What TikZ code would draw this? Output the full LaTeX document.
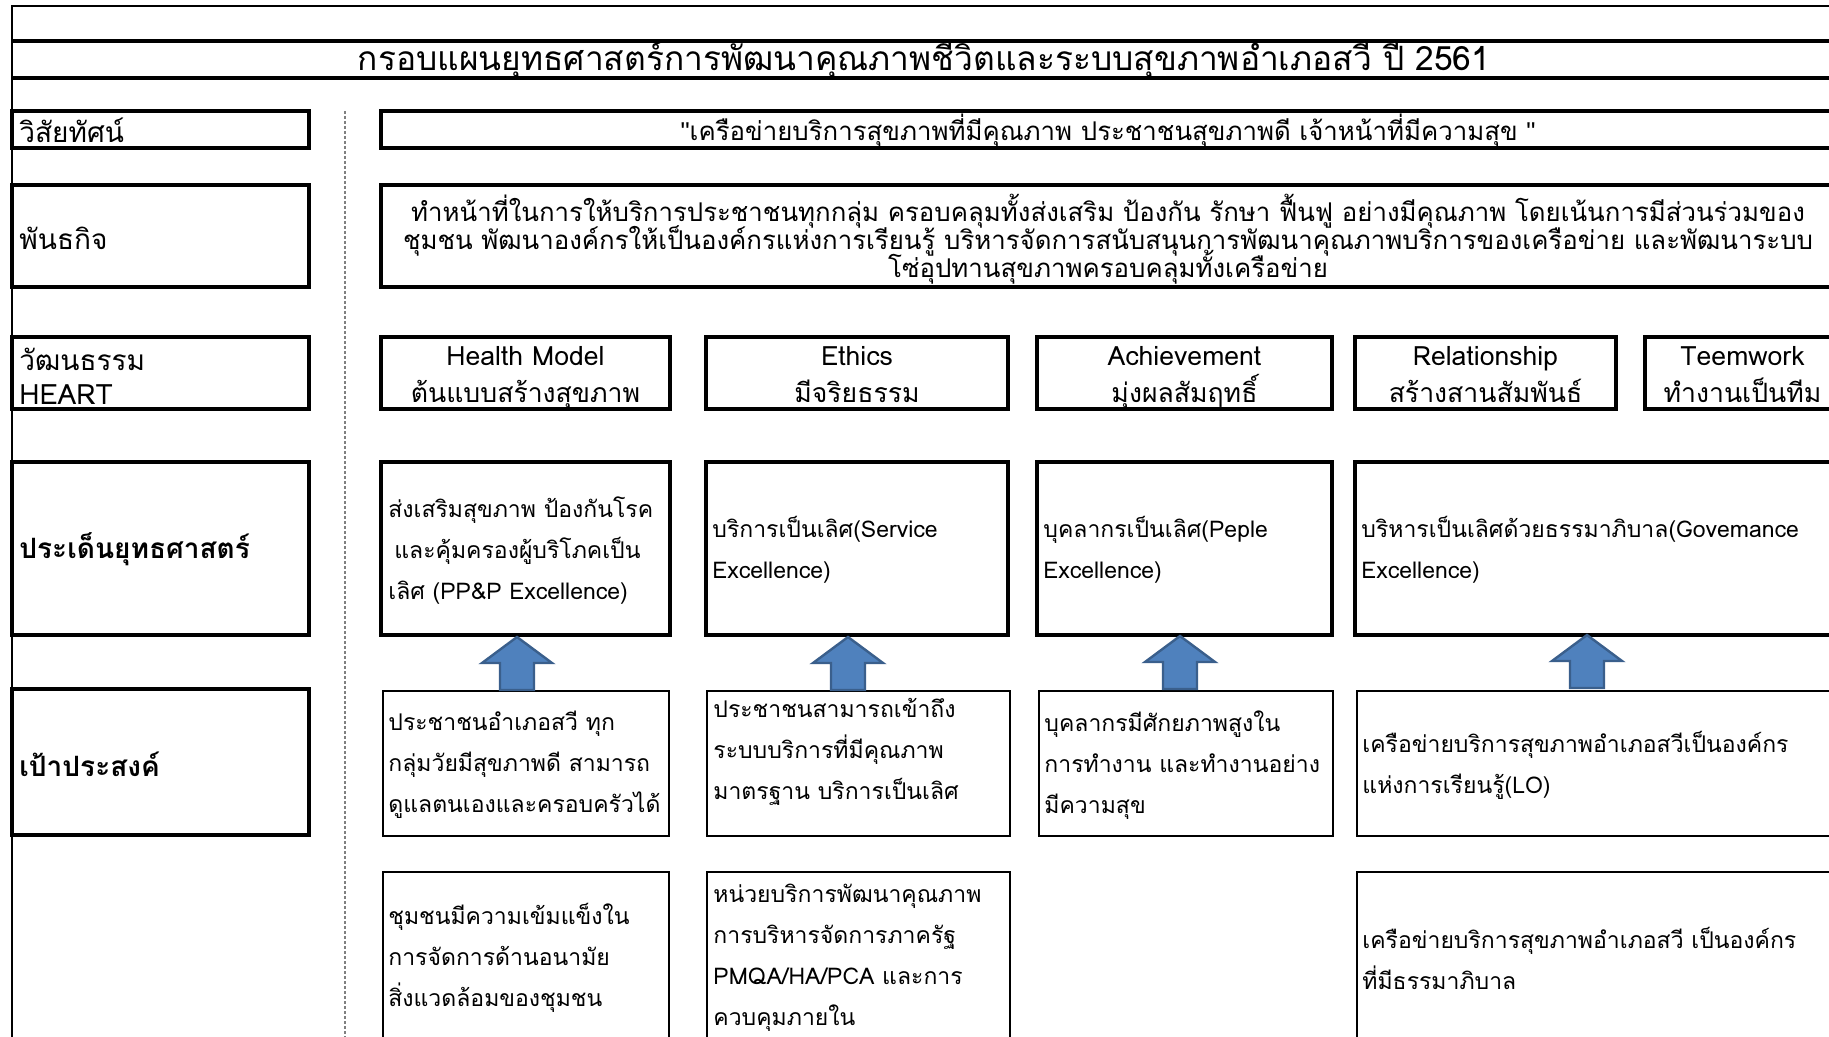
\documentclass[tikz,border=0pt]{standalone}
\usepackage{fontspec}
\setmainfont{Loma}[Script=Thai]
\newfontfamily\qfont{Liberation Sans}
\newcommand\tightlines{\lineskiplimit=-50pt\lineskip=0pt\relax}
\usetikzlibrary{fit}
\definecolor{arrfill}{HTML}{4F81BD}
\definecolor{arrline}{HTML}{3A5F8C}
\begin{document}
\begin{tikzpicture}[x=0.5pt,y=-0.5pt,
  frameline/.style={line width=1.1pt},
  bandline/.style={line width=1.8pt},
  thickbox/.style={draw, line width=1.6pt, inner sep=0pt},
  thinbox/.style={draw, line width=1.1pt, inner sep=0pt},
  titletext/.style={font=\fontsize{16.75}{20}\selectfont, inner sep=0pt},
  headtext/.style={font=\fontsize{12.9}{14}\selectfont\tightlines, inner sep=0pt, align=center, anchor=base},
  sidetext/.style={font=\fontsize{14}{17}\selectfont, inner sep=0pt, anchor=west, align=left},
  sidebold/.style={sidetext, font=\fontsize{14}{17}\selectfont\bfseries},
  culttext/.style={font=\fontsize{13.3}{18.2}\selectfont\tightlines, inner sep=0pt, align=center, anchor=base},
  bodytext/.style={font=\fontsize{11.5}{20.5}\selectfont, inner sep=0pt, anchor=west, align=left},
  uparrow/.pic={\filldraw[fill=arrfill, draw=arrline, line width=1.2pt]
     (-17,0) -- (-17,-27) -- (-35,-27) -- (0,-53) -- (35,-27) -- (17,-27) -- (17,0) -- cycle;}
]
\useasboundingbox (0,0) rectangle (1829,1037);
\clip (0,0) rectangle (1829,1037);
\fill[white] (0,0) rectangle (1829,1037);

% frame and title band
\draw[frameline] (12,1045) -- (12,6) -- (1835,6);
\draw[bandline] (12,41) -- (1835,41);
\draw[bandline] (12,78) -- (1835,78);
\node[titletext] (title) at (924,60) {กรอบแผนยุทธศาสตร์การพัฒนาคุณภาพชีวิตและระบบสุขภาพอำเภอสวี ปี 2561};

% separator
\draw[gray, line width=0.6pt, dash pattern=on 1.5pt off 1pt] (345,111) -- (345,1045);

% left labels
\node[thickbox, fit={(12,111) (309,148)}] (lvis) {};
\node[sidetext] (lvist) at (19,130) {วิสัยทัศน์};
\node[thickbox, fit={(12,185) (309,287)}] (lmis) {};
\node[sidetext] (lmist) at (19,238) {พันธกิจ};
\node[thickbox, fit={(12,337) (309,409)}] (lcul) {};
\node[sidetext] (lcult) at (19,376) {วัฒนธรรม\\HEART};
\node[thickbox, fit={(12,462) (309,635)}] (lstr) {};
\node[sidebold] (lstrt) at (19,549) {ประเด็นยุทธศาสตร์};
\node[thickbox, fit={(12,689) (309,835)}] (lgoal) {};
\node[sidebold] (lgoalt) at (19,764) {เป้าประสงค์};

% vision & mission
\node[thickbox, fit={(381,111) (1840,148)}] (vis) {};
\node[headtext] (vist) at (1108,140.4) {{\qfont"}เครือข่ายบริการสุขภาพที่มีคุณภาพ ประชาชนสุขภาพดี เจ้าหน้าที่มีความสุข {\qfont"}};
\node[thickbox, fit={(381,185) (1840,287)}] (mis) {};
\node[headtext] (mist) at (1108,278) {ทำหน้าที่ในการให้บริการประชาชนทุกกลุ่ม ครอบคลุมทั้งส่งเสริม ป้องกัน รักษา ฟื้นฟู อย่างมีคุณภาพ โดยเน้นการมีส่วนร่วมของ\\ชุมชน พัฒนาองค์กรให้เป็นองค์กรแห่งการเรียนรู้ บริหารจัดการสนับสนุนการพัฒนาคุณภาพบริการของเครือข่าย และพัฒนาระบบ\\โซ่อุปทานสุขภาพครอบคลุมทั้งเครือข่าย};

% culture HEART
\node[thickbox, fit={(381,337) (670,409)}] (hm) {};
\node[culttext] (hmt) at (525.5,402) {Health Model\\ต้นแบบสร้างสุขภาพ};
\node[thickbox, fit={(706,337) (1008,409)}] (eth) {};
\node[culttext] (etht) at (857,402) {Ethics\\มีจริยธรรม};
\node[thickbox, fit={(1037,337) (1332,409)}] (ach) {};
\node[culttext] (acht) at (1184.5,402) {Achievement\\มุ่งผลสัมฤทธิ์};
\node[thickbox, fit={(1355,337) (1616,409)}] (rel) {};
\node[culttext] (relt) at (1485.5,402) {Relationship\\สร้างสานสัมพันธ์};
\node[thickbox, fit={(1645,337) (1840,409)}] (team) {};
\node[culttext] (teamt) at (1742.5,402) {Teemwork\\ทำงานเป็นทีม};

% strategic issues
\node[thickbox, fit={(381,462) (670,635)}] (s1) {};
\node[bodytext] (s1t) at (388,551) {ส่งเสริมสุขภาพ ป้องกันโรค\\\hspace*{3pt}และคุ้มครองผู้บริโภคเป็น\\เลิศ (PP\&P Excellence)};
\node[thickbox, fit={(706,462) (1008,635)}] (s2) {};
\node[bodytext] (s2t) at (712,550) {บริการเป็นเลิศ(Service\\Excellence)};
\node[thickbox, fit={(1037,462) (1332,635)}] (s3) {};
\node[bodytext] (s3t) at (1043,550) {บุคลากรเป็นเลิศ(Peple\\Excellence)};
\node[thickbox, fit={(1355,462) (1840,635)}] (s4) {};
\node[bodytext] (s4t) at (1361,550) {บริหารเป็นเลิศด้วยธรรมาภิบาล(Govemance\\Excellence)};

% goals
\node[thinbox, fit={(383,691) (669,836)}] (g1) {};
\node[bodytext] (g1t) at (388,765) {ประชาชนอำเภอสวี ทุก\\กลุ่มวัยมีสุขภาพดี สามารถ\\ดูแลตนเองและครอบครัวได้};
\node[thinbox, fit={(707,691) (1010,836)}] (g2) {};
\node[bodytext] (g2t) at (713,752) {ประชาชนสามารถเข้าถึง\\ระบบบริการที่มีคุณภาพ\\มาตรฐาน บริการเป็นเลิศ};
\node[thinbox, fit={(1039,691) (1333,836)}] (g3) {};
\node[bodytext] (g3t) at (1044,765) {บุคลากรมีศักยภาพสูงใน\\การทำงาน และทำงานอย่าง\\มีความสุข};
\node[thinbox, fit={(1357,691) (1840,836)}] (g4) {};
\node[bodytext] (g4t) at (1362,765) {เครือข่ายบริการสุขภาพอำเภอสวีเป็นองค์กร\\แห่งการเรียนรู้(LO)};

% bottom row
\node[thinbox, fit={(383,872) (669,1050)}] (b1) {};
\node[bodytext] (b1t) at (388,958) {ชุมชนมีความเข้มแข็งใน\\การจัดการด้านอนามัย\\สิ่งแวดล้อมของชุมชน};
\node[thinbox, fit={(707,872) (1010,1050)}] (b2) {};
\node[bodytext] (b2t) at (713,958) {หน่วยบริการพัฒนาคุณภาพ\\การบริหารจัดการภาครัฐ\\PMQA/HA/PCA และการ\\ควบคุมภายใน};
\node[thinbox, fit={(1357,872) (1840,1050)}] (b4) {};
\node[bodytext] (b4t) at (1362,958) {เครือข่ายบริการสุขภาพอำเภอสวี เป็นองค์กร\\ที่มีธรรมาภิบาล};

% arrows goal -> strategy
\pic (a1) at (517,690) {uparrow};
\pic (a2) at (848,690) {uparrow};
\pic (a3) at (1180,689) {uparrow};
\pic (a4) at (1587,688) {uparrow};
\end{tikzpicture}
\end{document}
